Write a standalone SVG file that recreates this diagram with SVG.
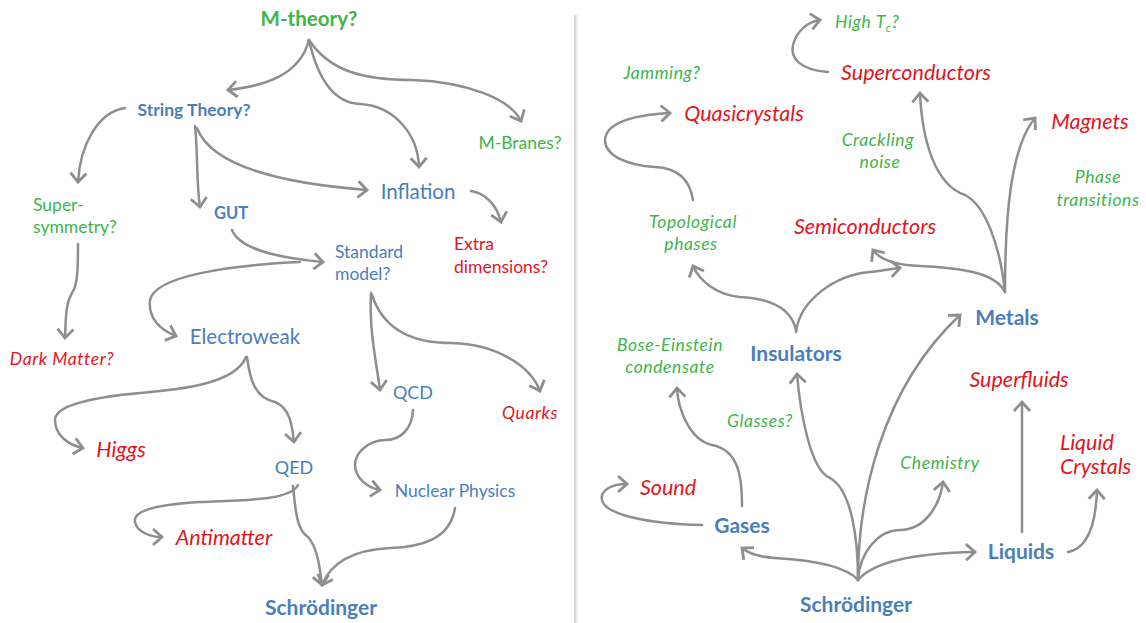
<svg xmlns="http://www.w3.org/2000/svg" width="1146" height="623" viewBox="0 0 1146 623">
<style>
text{font-family:Lato,"Open Sans","Liberation Sans",sans-serif;}
.g{fill:#3db54a}.b{fill:#4a7ebb}.r{fill:#e3141e}
.bo{font-weight:bold}.it{font-style:italic}
.s{font-size:17.5px}
.si{font-size:17.5px;letter-spacing:0.6px}
.sb{font-size:17.5px}
.l{font-size:20.5px}
.li{font-size:21.5px}
.lb{font-size:21px}
.c path{fill:none;stroke:#8e8e8e;stroke-width:2.5;stroke-linecap:round;marker-end:url(#ah)}
</style>
<defs>
<marker id="ah" markerUnits="userSpaceOnUse" orient="auto" markerWidth="24" markerHeight="24" refX="12" refY="12" viewBox="0 0 24 24" overflow="visible">
<path d="M3,4 L12,12 L3,20" fill="none" stroke="#8e8e8e" stroke-width="2.8" stroke-linejoin="miter"/>
</marker>
</defs>
<rect width="1146" height="623" fill="#fff"/>
<line x1="575" y1="15" x2="575" y2="623" stroke="#d6d6d6" stroke-width="2"/>
<line x1="577" y1="15" x2="577" y2="623" stroke="#eeeeee" stroke-width="2"/>

<g class="c" id="connectors">
<path d="M309,40 C300,75 265,86 228,90"/>
<path d="M309,40 C318,80 335,103 360,104 C395,106 418,135 419,167"/>
<path d="M309,40 C330,72 365,80 413,80 C465,82 510,98 521,121"/>
<path d="M125,108 C98,112 80,145 78,182"/>
<path d="M195,126 C198,150 196,180 200,207"/>
<path d="M197,128 C212,168 290,184 367,190"/>
<path d="M471,191 C485,193 497,205 501,222"/>
<path d="M232,230 C240,250 280,258 323,262"/>
<path d="M300,262 C230,265 155,276 150,300 C148,318 160,330 176,336"/>
<path d="M371,293 C369,330 376,360 380,390"/>
<path d="M372,295 C385,335 420,343 452,343 C495,344 530,365 540,391"/>
<path d="M78,244 C78,265 78,285 72,293 C65,305 66,320 65,338"/>
<path d="M246,357 C235,385 175,390 140,393 C95,397 55,405 55,420 C55,435 68,445 83,448"/>
<path d="M247,357 C250,380 255,398 275,402 C290,408 292,425 294,442"/>
<path d="M413,410 C412,430 400,440 385,440 C365,441 355,455 355,465 C355,478 368,488 380,490"/>
<path d="M298,485 C290,500 250,500 200,502 C150,505 133,512 135,522 C137,532 150,537 162,537"/>
<path d="M293,486 C295,505 296,530 308,537 C318,548 320,570 322,585"/>
<path d="M455,508 C450,540 420,547 390,548 C350,550 330,565 322,585"/>

<path d="M828,72 C800,70 790,58 793,45 C797,30 808,22 820,20"/>
<path d="M693,200 C690,180 678,168 655,167 C625,165 605,155 605,140 C606,122 635,115 670,113"/>
<path d="M1005,292 C1000,245 985,205 965,195 C935,185 922,140 920,93"/>
<path d="M1005,292 C1005,220 1010,148 1035,118"/>
<path d="M1005,292 C995,272 960,268 920,266 C895,265 880,260 873,250"/>
<path d="M796,332 C800,300 835,275 870,272 C880,271 890,269 900,268"/>
<path d="M796,330 C790,303 760,298 740,297 C718,295 700,282 693,266"/>
<path d="M858,580 C858,540 852,490 830,478 C810,470 800,410 797,374"/>
<path d="M858,580 C858,500 880,390 960,315"/>
<path d="M858,580 C860,550 880,530 900,530 C925,530 940,505 943,482"/>
<path d="M858,580 C875,560 920,553 975,552"/>
<path d="M858,580 C845,565 810,560 775,558 C760,557 748,553 742,548"/>
<path d="M702,525 C650,524 605,515 602,500 C600,490 612,484 627,484"/>
<path d="M742,506 C742,475 738,450 712,445 C690,440 678,410 677,388"/>
<path d="M1022,532 L1022,402"/>
<path d="M1068,552 C1090,548 1096,520 1097,490"/>
</g>

<g id="m-theory"><text class="g bo" x="309" y="26" font-size="20.5" text-anchor="middle">M-theory?</text></g>
<g id="string-theory"><text class="b bo" x="194" y="116" font-size="17.5" text-anchor="middle">String Theory?</text></g>
<g id="m-branes"><text class="g s" x="520" y="149" text-anchor="middle">M-Branes?</text></g>
<g id="inflation"><text class="b l" x="418" y="199" text-anchor="middle">Inflation</text></g>
<g id="supersymmetry"><text class="g s" x="33" y="211">Super-</text><text class="g s" x="33" y="233">symmetry?</text></g>
<g id="gut"><text class="b bo" x="231" y="219" font-size="16.5" text-anchor="middle">GUT</text></g>
<g id="standard-model"><text class="b s" x="335" y="258">Standard</text><text class="b s" x="335" y="280">model?</text></g>
<g id="extra-dimensions"><text class="r s" x="454" y="250">Extra</text><text class="r s" x="454" y="273">dimensions?</text></g>
<g id="dark-matter"><text class="r it si" x="62" y="365" text-anchor="middle">Dark Matter?</text></g>
<g id="electroweak"><text class="b l" x="245" y="344" text-anchor="middle">Electroweak</text></g>
<g id="qcd"><text class="b" x="413" y="399" font-size="18" text-anchor="middle">QCD</text></g>
<g id="quarks"><text class="r it si" x="530" y="419" text-anchor="middle">Quarks</text></g>
<g id="higgs"><text class="r it li" x="121" y="457" text-anchor="middle">Higgs</text></g>
<g id="qed"><text class="b" x="294" y="474" font-size="18" text-anchor="middle">QED</text></g>
<g id="nuclear-physics"><text class="b s" x="455" y="497" text-anchor="middle">Nuclear Physics</text></g>
<g id="antimatter"><text class="r it li" x="224" y="545" text-anchor="middle">Antimatter</text></g>
<g id="schrodinger-left"><text class="b bo lb" x="321" y="615" text-anchor="middle">Schrödinger</text></g>

<g id="high-tc"><text class="g it si" x="835" y="28">High T<tspan font-size="11" dy="4">c</tspan><tspan dy="-4">?</tspan></text></g>
<g id="superconductors"><text class="r it li" x="916" y="80" text-anchor="middle">Superconductors</text></g>
<g id="jamming"><text class="g it si" x="662" y="79" text-anchor="middle">Jamming?</text></g>
<g id="quasicrystals"><text class="r it li" x="744" y="121" text-anchor="middle">Quasicrystals</text></g>
<g id="magnets"><text class="r it li" x="1090" y="129" text-anchor="middle">Magnets</text></g>
<g id="crackling-noise"><text class="g it si" x="878" y="146" text-anchor="middle">Crackling</text><text class="g it si" x="880" y="168" text-anchor="middle">noise</text></g>
<g id="phase-transitions"><text class="g it si" x="1098" y="183" text-anchor="middle">Phase</text><text class="g it si" x="1098" y="206" text-anchor="middle">transitions</text></g>
<g id="topological-phases"><text class="g it si" x="693" y="228" text-anchor="middle">Topological</text><text class="g it si" x="691" y="250" text-anchor="middle">phases</text></g>
<g id="semiconductors"><text class="r it li" x="865" y="234" text-anchor="middle">Semiconductors</text></g>
<g id="metals"><text class="b bo lb" x="1007" y="325" text-anchor="middle">Metals</text></g>
<g id="bose-einstein"><text class="g it si" x="670" y="351" text-anchor="middle">Bose-Einstein</text><text class="g it si" x="670" y="373" text-anchor="middle">condensate</text></g>
<g id="insulators"><text class="b bo lb" x="796" y="361" text-anchor="middle">Insulators</text></g>
<g id="superfluids"><text class="r it li" x="1019" y="387" text-anchor="middle">Superfluids</text></g>
<g id="glasses"><text class="g it si" x="760" y="427" text-anchor="middle">Glasses?</text></g>
<g id="liquid-crystals"><text class="r it li" x="1060" y="450">Liquid</text><text class="r it li" x="1060" y="474">Crystals</text></g>
<g id="chemistry"><text class="g it si" x="940" y="469" text-anchor="middle">Chemistry</text></g>
<g id="sound"><text class="r it li" x="668" y="495" text-anchor="middle">Sound</text></g>
<g id="gases"><text class="b bo lb" x="742" y="533" text-anchor="middle">Gases</text></g>
<g id="liquids"><text class="b bo lb" x="1021" y="559" text-anchor="middle">Liquids</text></g>
<g id="schrodinger-right"><text class="b bo lb" x="856" y="612" text-anchor="middle">Schrödinger</text></g>
</svg>
